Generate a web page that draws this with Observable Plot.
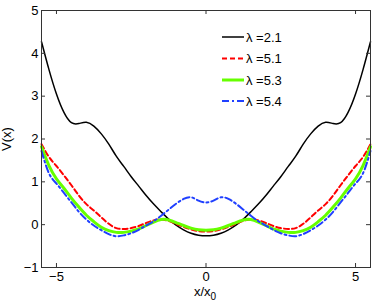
<!DOCTYPE html>
<html><head><meta charset="utf-8">
<script src="https://cdn.jsdelivr.net/npm/d3@7"></script>
<script src="https://cdn.jsdelivr.net/npm/@observablehq/plot@0.6"></script>
<style>
body{margin:0;background:#fff}
#c{width:374px;height:305px}
</style>
</head><body><div id="c"></div>
<script>
// x positions (x/x0)
const xs = [-5.5,-5.25,-5,-4.75,-4.5,-4.25,-4,-3.75,-3.5,-3.25,-3,-2.75,-2.5,-2.25,-2,-1.75,-1.5,-1.25,-1,-0.75,-0.5,-0.25,0,
            0.25,0.5,0.75,1,1.25,1.5,1.75,2,2.25,2.5,2.75,3,3.25,3.5,3.75,4,4.25,4.5,4.75,5,5.25,5.5];
// V(x) for lambda = 2.1
const v21 = [4.27,3.62,3.05,2.62,2.38,2.36,2.39,2.3,2.12,1.88,1.6,1.36,1.12,0.9,0.68,0.48,0.3,0.13,-0.01,-0.12,-0.2,-0.245,-0.26,
             -0.245,-0.2,-0.12,-0.01,0.13,0.3,0.48,0.68,0.9,1.12,1.36,1.6,1.88,2.12,2.3,2.39,2.36,2.38,2.62,3.05,3.62,4.27];
// lambda = 5.1
const v51 = [1.88,1.58,1.37,1.15,0.92,0.68,0.48,0.33,0.17,0.02,-0.08,-0.1,-0.08,-0.03,0.04,0.1,0.12,0.09,0.02,-0.05,-0.11,-0.15,-0.16,
             -0.15,-0.11,-0.05,0.02,0.09,0.12,0.1,0.04,-0.03,-0.08,-0.1,-0.08,0.02,0.17,0.33,0.48,0.68,0.92,1.15,1.37,1.58,1.88];
// lambda = 5.3
const v53 = [1.82,1.38,1.07,0.85,0.62,0.41,0.22,0.07,-0.06,-0.14,-0.18,-0.18,-0.15,-0.1,-0.02,0.06,0.12,0.11,0.05,-0.02,-0.08,-0.12,-0.13,
             -0.12,-0.08,-0.02,0.05,0.11,0.12,0.06,-0.02,-0.1,-0.15,-0.18,-0.18,-0.14,-0.06,0.07,0.22,0.41,0.62,0.85,1.07,1.38,1.82];
// lambda = 5.4
const v54 = [1.72,1.2,0.96,0.74,0.52,0.3,0.12,-0.02,-0.13,-0.22,-0.27,-0.25,-0.2,-0.12,-0.02,0.08,0.21,0.35,0.49,0.6,0.64,0.56,0.52,
             0.56,0.64,0.6,0.49,0.35,0.21,0.08,-0.02,-0.12,-0.2,-0.25,-0.27,-0.22,-0.13,-0.02,0.12,0.3,0.52,0.74,0.96,1.2,1.72];

const labels = ["λ =2.1","λ =5.1","λ =5.3","λ =5.4"];
const colors = ["#000000","#ff0000","#66ff00","#2040ff"];
const widths = [1.5,2,3,2];
const dashes = [null,"5,3",null,"7,3,2,3"];
const allV = [v21,v51,v53,v54];

const xTicks = [-5,0,5];
const yTicks = [-1,0,1,2,3,4,5];

const W = 374, H = 305, mL = 41, mR = 4, mT = 10, mB = 38;
const fw = W - mL - mR, fh = H - mT - mB;

const lineMarks = allV.map((vals, s) =>
  Plot.line(xs.map((x,i)=>({x, y: vals[i]})), {
    x: "x", y: "y", stroke: colors[s], strokeWidth: widths[s],
    strokeDasharray: dashes[s] ?? undefined, curve: "natural"
  })
);

const chart = Plot.plot({
  width: W, height: H,
  marginLeft: mL, marginRight: mR, marginTop: mT, marginBottom: mB,
  style: {fontFamily: "'Liberation Sans', Arial, sans-serif", fontSize: "12px", background: "#fff", color: "#000"},
  x: {domain: [-5.5, 5.5]},
  y: {domain: [-1, 5]},
  marks: [
    ...lineMarks,
    Plot.frame({stroke: "#333", strokeWidth: 1}),
    Plot.ruleX(xTicks, {x: d => d, insetTop: fh - 4, stroke: "#333"}),
    Plot.ruleX(xTicks, {x: d => d, insetBottom: fh - 4, stroke: "#333"}),
    Plot.ruleY(yTicks, {y: d => d, insetRight: fw - 4, stroke: "#333"}),
    Plot.ruleY(yTicks, {y: d => d, insetLeft: fw - 4, stroke: "#333"}),
    Plot.axisX(xTicks, {anchor: "bottom", tickSize: 0, tickPadding: 4, fontSize: 13, label: null}),
    Plot.axisY(yTicks, {anchor: "left", tickSize: 0, tickPadding: 3, fontSize: 13, label: null})
  ]
});

const svg = d3.select(chart);
// axis titles
const xl = svg.append("text").attr("x", 205).attr("y", 296).attr("text-anchor", "middle")
  .attr("font-size", 13).attr("fill", "#000");
xl.append("tspan").text("x/x");
xl.append("tspan").attr("dy", 4).attr("font-size", 10).text("0");
svg.append("text").attr("transform", "translate(11,139) rotate(-90)").attr("text-anchor", "middle")
  .attr("font-size", 13).attr("fill", "#000").text("V(x)");
// legend
const rowY = [37, 58.5, 80, 101];
labels.forEach((lab, i) => {
  svg.append("line").attr("x1", 222).attr("x2", 244).attr("y1", rowY[i]).attr("y2", rowY[i])
    .attr("stroke", colors[i]).attr("stroke-width", widths[i])
    .attr("stroke-dasharray", dashes[i]);
  svg.append("text").attr("x", 246).attr("y", rowY[i]).attr("dy", "0.35em")
    .attr("text-anchor", "start")
    .attr("font-size", 13).attr("fill", "#000").text(lab);
});

document.getElementById("c").appendChild(chart);
</script>
</body></html>
